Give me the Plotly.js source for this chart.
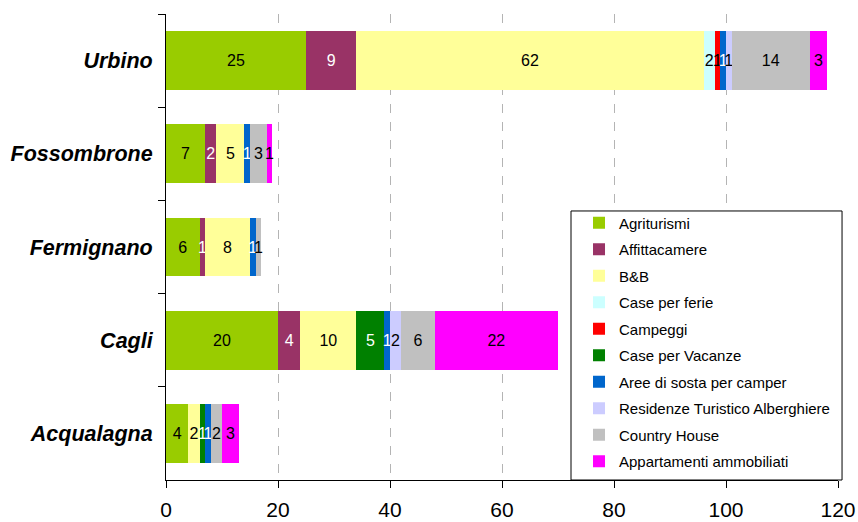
<!DOCTYPE html>
<html>
<head>
<meta charset="utf-8">
<script src="https://cdn.plot.ly/plotly-3.0.1.min.js"></script>
<style>
  html, body { margin: 0; padding: 0; background: #fff; }
  #chart { width: 858px; height: 522px; }
</style>
</head>
<body>
<div id="chart"></div>
<script>
// Comuni, listed top to bottom
const comuni = ['Urbino', 'Fossombrone', 'Fermignano', 'Cagli', 'Acqualagna'];

// Strutture ricettive per tipologia (same order as comuni)
const agriturismi     = [25, 7, 6, 20, 4];
const affittacamere   = [9, 2, 1, 4, 0];
const bb              = [62, 5, 8, 10, 2];
const casePerFerie    = [2, 0, 0, 0, 0];
const campeggi        = [1, 0, 0, 0, 0];
const casePerVacanze  = [0, 0, 0, 5, 1];
const areeSosta       = [1, 1, 1, 1, 1];
const residenzeRTA    = [1, 0, 0, 2, 0];
const countryHouse    = [14, 3, 1, 6, 2];
const appartamenti    = [3, 1, 0, 22, 3];

const xTicks = [0, 20, 40, 60, 80, 100, 120];

const series = [
  { name: 'Agriturismi', values: agriturismi, color: '#99CC00', textColor: '#000' },
  { name: 'Affittacamere', values: affittacamere, color: '#993366', textColor: '#fff' },
  { name: 'B&B', values: bb, color: '#FFFF99', textColor: '#000' },
  { name: 'Case per ferie', values: casePerFerie, color: '#CCFFFF', textColor: '#000' },
  { name: 'Campeggi', values: campeggi, color: '#FF0000', textColor: '#000' },
  { name: 'Case per Vacanze', values: casePerVacanze, color: '#008000', textColor: '#fff' },
  { name: 'Aree di sosta per camper', values: areeSosta, color: '#0066CC', textColor: '#fff' },
  { name: 'Residenze Turistico Alberghiere', values: residenzeRTA, color: '#CCCCFF', textColor: '#000' },
  { name: 'Country House', values: countryHouse, color: '#C0C0C0', textColor: '#000' },
  { name: 'Appartamenti ammobiliati', values: appartamenti, color: '#FF00FF', textColor: '#000' }
];

const FONT = 'Liberation Sans, Arial, Helvetica, sans-serif';

const traces = series.map((s, i) => ({
  type: 'bar',
  orientation: 'h',
  name: s.name,
  legendgroup: 'g' + i,
  y: comuni,
  x: s.values,
  text: s.values.map(v => (v > 0 ? String(v) : '')),
  textposition: 'inside',
  insidetextanchor: 'middle',
  constraintext: 'none',
  textangle: 0,
  textfont: { family: FONT, size: 16, color: s.textColor },
  marker: { color: s.color, line: { width: 0 } },
  hoverinfo: 'name+x'
}));

const layout = {
  width: 858,
  height: 522,
  margin: { l: 166, r: 20, t: 14, b: 42 },
  paper_bgcolor: '#fff',
  plot_bgcolor: '#fff',
  barmode: 'stack',
  bargap: 0.37,
  font: { family: FONT, color: '#000' },
  xaxis: {
    range: [0, 120],
    tickvals: xTicks,
    ticktext: xTicks.map(String),
    tickfont: { family: FONT, size: 21, color: '#000' },
    ticks: 'outside',
    ticklen: 7,
    tickcolor: '#000',
    ticklabelstandoff: 4,
    showline: true,
    linecolor: '#000',
    linewidth: 1,
    showgrid: true,
    gridcolor: '#b4b4b4',
    griddash: 'dash',
    gridwidth: 1,
    zeroline: false,
    fixedrange: true
  },
  yaxis: {
    type: 'category',
    autorange: 'reversed',
    tickfont: { family: FONT, size: 21.5, color: '#000', weight: 'bold', style: 'italic' },
    ticks: 'outside',
    tickson: 'boundaries',
    ticklen: 7,
    tickcolor: '#000',
    showline: true,
    linecolor: '#000',
    linewidth: 1,
    showgrid: false,
    zeroline: false,
    ticklabelstandoff: 8,
    fixedrange: true
  },
  // white framed panel behind the legend entries
  shapes: [{
    type: 'rect',
    xref: 'paper', yref: 'paper',
    x0: 0.6027, x1: 1.006, y0: 0, y1: 0.5773,
    fillcolor: '#fff',
    line: { color: '#000', width: 1 },
    layer: 'above'
  }],
  showlegend: true,
  legend: {
    x: 0.6146,
    y: 0.587,
    xanchor: 'left',
    yanchor: 'top',
    bgcolor: 'rgba(0,0,0,0)',
    borderwidth: 0,
    font: { family: FONT, size: 15, color: '#000' },
    traceorder: 'grouped',
    tracegroupgap: 4,
    itemwidth: 30
  }
};

Plotly.newPlot('chart', traces, layout, { displayModeBar: false, staticPlot: true });
</script>
</body>
</html>
